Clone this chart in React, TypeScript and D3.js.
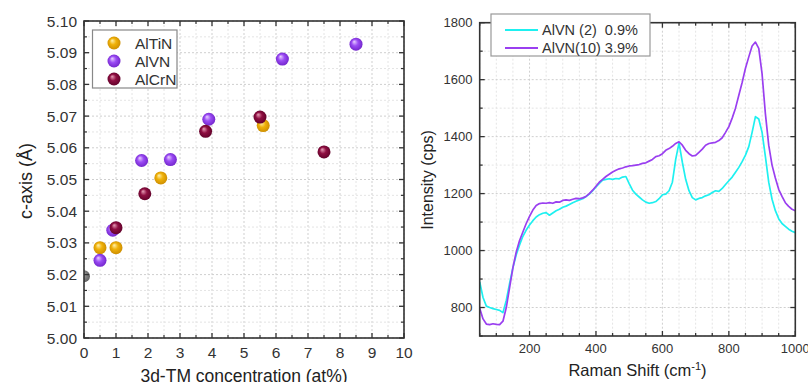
import * as d3 from 'd3';

// ---- left panel: c-axis vs 3d-TM concentration ----
const altinX = [0.5, 1.0, 2.4, 5.6];
const altinY = [5.0285, 5.0285, 5.0505, 5.067];
const alvnX = [0.5, 0.9, 1.8, 2.7, 3.9, 6.2, 8.5];
const alvnY = [5.0245, 5.034, 5.056, 5.0563, 5.069, 5.088, 5.0927];
const alcrnX = [1.0, 1.9, 3.8, 5.5, 7.5];
const alcrnY = [5.0348, 5.0455, 5.0652, 5.0697, 5.0587];
const refX = [0.0];
const refY = [5.0195];

// ---- right panel: Raman spectra ----
const ramanShift = [
  50, 60, 70, 80, 90, 100, 110, 120, 130, 140, 150, 160, 170, 180, 190, 200,
  210, 220, 230, 240, 250, 260, 270, 280, 290, 300, 310, 320, 330, 340, 350,
  360, 370, 380, 390, 400, 410, 420, 430, 440, 450, 460, 470, 480, 490, 500,
  510, 520, 530, 540, 550, 560, 570, 580, 590, 600, 610, 620, 630, 640, 650,
  660, 670, 680, 690, 700, 710, 720, 730, 740, 750, 760, 770, 780, 790, 800,
  810, 820, 830, 840, 850, 860, 870, 880, 890, 900, 910, 920, 930, 940, 950,
  960, 970, 980, 990, 1000,
];
const alvn2 = [
  890, 835, 805, 800, 796, 793, 790, 782, 825, 885, 940, 985, 1020, 1050, 1072,
  1090, 1105, 1118, 1126, 1131, 1133, 1124, 1132, 1140, 1145, 1152, 1156, 1162,
  1168, 1173, 1178, 1182, 1190, 1198, 1210, 1223, 1236, 1247, 1250, 1252, 1250,
  1253, 1252, 1258, 1260, 1235, 1212, 1198, 1188, 1178, 1170, 1166, 1168, 1172,
  1182, 1196, 1198, 1210, 1240, 1320, 1378, 1310, 1250, 1210, 1186, 1178, 1183,
  1186, 1192, 1196, 1204, 1210, 1208, 1218, 1232, 1245, 1258, 1275, 1292, 1312,
  1335, 1365, 1415, 1470, 1462, 1415, 1330, 1240, 1180, 1140, 1112, 1095, 1085,
  1075, 1068, 1063,
];
const alvn10 = [
  797, 760, 742, 740, 743, 741, 740, 752, 800, 870, 940, 995, 1035, 1065, 1095,
  1120, 1142, 1158, 1165, 1167, 1166, 1168, 1166, 1171, 1170, 1176, 1178, 1176,
  1180, 1183, 1182, 1185, 1190, 1200, 1212, 1226, 1240, 1250, 1260, 1268, 1276,
  1282, 1287, 1290, 1294, 1297, 1298, 1300, 1302, 1306, 1308, 1314, 1320, 1330,
  1333, 1340, 1352, 1358, 1366, 1376, 1382, 1370, 1352, 1340, 1332, 1334, 1345,
  1356, 1370, 1376, 1378, 1380, 1386, 1396, 1415, 1435, 1465, 1500, 1545, 1590,
  1640, 1680, 1718, 1732, 1710, 1620, 1480, 1370, 1300, 1255, 1215, 1190, 1168,
  1155, 1145, 1140,
];

const FONT = '"Liberation Sans", Arial, sans-serif';
const AXIS = '#333';
const GRID_MAJ = '#cfcfcf';
const GRID_MIN = '#e4e4e4';

function Sphere({ x, y, id, r = 6.5 }: { x: number; y: number; id: string; r?: number }) {
  return <circle cx={x} cy={y} r={r} fill={`url(#${id})`} />;
}

function LeftPanel() {
  const L = 84, R = 404, T = 21, B = 338;
  const x = d3.scaleLinear().domain([0, 10]).range([L, R]);
  const y = d3.scaleLinear().domain([5.0, 5.1]).range([B, T]);
  const xMaj = d3.range(0, 10.001, 1);
  const xMin = d3.range(0.5, 10, 1);
  const yMaj = d3.range(0, 11).map((i) => 5 + i * 0.01);
  const yMin = d3.range(0, 10).map((i) => 5.005 + i * 0.01);

  const series = [
    { name: 'AlTiN', xs: altinX, ys: altinY, g: 'gTi' },
    { name: 'AlVN', xs: alvnX, ys: alvnY, g: 'gV' },
    { name: 'AlCrN', xs: alcrnX, ys: alcrnY, g: 'gCr' },
  ];

  return (
    <g fontFamily={FONT}>
      <clipPath id='clipL'>
        <rect x={L} y={T} width={R - L} height={B - T} />
      </clipPath>
      {/* grid */}
      {xMin.map((v) => (
        <line key={'xm' + v} x1={x(v)} x2={x(v)} y1={T} y2={B} stroke={GRID_MIN} strokeDasharray='2,2' />
      ))}
      {xMaj.map((v) => (
        <line key={'xg' + v} x1={x(v)} x2={x(v)} y1={T} y2={B} stroke={GRID_MAJ} strokeDasharray='2,2' />
      ))}
      {yMin.map((v) => (
        <line key={'ym' + v} x1={L} x2={R} y1={y(v)} y2={y(v)} stroke={GRID_MIN} strokeDasharray='2,2' />
      ))}
      {yMaj.map((v) => (
        <line key={'yg' + v} x1={L} x2={R} y1={y(v)} y2={y(v)} stroke={GRID_MAJ} strokeDasharray='2,2' />
      ))}

      {/* points */}
      <g clipPath='url(#clipL)'>
        {refX.map((v, i) => (
          <Sphere key={'ref' + i} x={x(v)} y={y(refY[i])} id='gRef' r={6} />
        ))}
        {series.map((s) =>
          s.xs.map((v, i) => <Sphere key={s.name + i} x={x(v)} y={y(s.ys[i])} id={s.g} />)
        )}
      </g>

      {/* frame */}
      <rect x={L} y={T} width={R - L} height={B - T} fill='none' stroke={AXIS} strokeWidth={1.6} />
      {xMaj.map((v) => (
        <g key={'xt' + v}>
          <line x1={x(v)} x2={x(v)} y1={B} y2={B - 5} stroke={AXIS} strokeWidth={1.3} />
          <line x1={x(v)} x2={x(v)} y1={T} y2={T + 5} stroke={AXIS} strokeWidth={1.3} />
          <text x={x(v)} y={358} textAnchor='middle' fontSize={15.5} fill='#333'>
            {v}
          </text>
        </g>
      ))}
      {xMin.map((v) => (
        <g key={'xmt' + v}>
          <line x1={x(v)} x2={x(v)} y1={B} y2={B - 3} stroke={AXIS} strokeWidth={1.2} />
          <line x1={x(v)} x2={x(v)} y1={T} y2={T + 3} stroke={AXIS} strokeWidth={1.2} />
        </g>
      ))}
      {yMaj.map((v) => (
        <g key={'yt' + v}>
          <line x1={L} x2={L + 5} y1={y(v)} y2={y(v)} stroke={AXIS} strokeWidth={1.3} />
          <line x1={R} x2={R - 5} y1={y(v)} y2={y(v)} stroke={AXIS} strokeWidth={1.3} />
          <text x={77} y={y(v) + 5.5} textAnchor='end' fontSize={15.5} fill='#333'>
            {d3.format('.2f')(v)}
          </text>
        </g>
      ))}
      {yMin.map((v) => (
        <g key={'ymt' + v}>
          <line x1={L} x2={L + 3} y1={y(v)} y2={y(v)} stroke={AXIS} strokeWidth={1.2} />
          <line x1={R} x2={R - 3} y1={y(v)} y2={y(v)} stroke={AXIS} strokeWidth={1.2} />
        </g>
      ))}

      {/* titles */}
      <text x={(L + R) / 2} y={382} textAnchor='middle' fontSize={17.5} fill='#222'>
        3d-TM concentration (at%)
      </text>
      <text transform='translate(32,181) rotate(-90)' textAnchor='middle' fontSize={18} fill='#222'>
        c-axis (Å)
      </text>

      {/* legend */}
      <rect x={92.5} y={30} width={84.5} height={58} fill='#fff' stroke='#888' strokeWidth={1.2} />
      {series.map((s, i) => (
        <g key={'lg' + s.name}>
          <Sphere x={114} y={43 + i * 18} id={s.g} />
          <text x={135} y={43 + i * 18 + 5.5} fontSize={15.5} fill='#333'>
            {s.name}
          </text>
        </g>
      ))}
    </g>
  );
}

function RightPanel() {
  const L = 479.7, R = 795.3, T = 22.7, B = 336;
  const x = d3.scaleLinear().domain([50, 1000]).range([L, R]);
  const y = d3.scaleLinear().domain([700, 1800]).range([B, T]);
  const xGrid = d3.range(50, 1001, 50);
  const xMaj = d3.range(200, 1001, 200);
  const yGrid = d3.range(700, 1801, 100);
  const yMaj = d3.range(800, 1801, 200);

  const line = d3
    .line<number>()
    .x((_, i) => x(ramanShift[i]))
    .y((d) => y(d));

  return (
    <g fontFamily={FONT}>
      <clipPath id='clipR'>
        <rect x={L} y={T} width={R - L} height={B - T} />
      </clipPath>
      {xGrid.map((v) => (
        <line key={'xg' + v} x1={x(v)} x2={x(v)} y1={T} y2={B} stroke={v % 200 === 0 ? GRID_MAJ : GRID_MIN} strokeDasharray='2,2' />
      ))}
      {yGrid.map((v) => (
        <line key={'yg' + v} x1={L} x2={R} y1={y(v)} y2={y(v)} stroke={v % 200 === 0 ? GRID_MAJ : GRID_MIN} strokeDasharray='2,2' />
      ))}

      <g clipPath='url(#clipR)' fill='none' strokeWidth={1.7} strokeLinejoin='round'>
        <path d={line(alvn2) ?? ''} stroke='#1ef0f0' />
        <path d={line(alvn10) ?? ''} stroke='#9a3ff0' />
      </g>

      <rect x={L} y={T} width={R - L} height={B - T} fill='none' stroke={AXIS} strokeWidth={1.6} />
      {xGrid.map((v) => {
        const len = v % 200 === 0 ? 5 : 3;
        return (
          <g key={'xt' + v}>
            <line x1={x(v)} x2={x(v)} y1={B} y2={B - len} stroke={AXIS} strokeWidth={1.3} />
            <line x1={x(v)} x2={x(v)} y1={T} y2={T + len} stroke={AXIS} strokeWidth={1.3} />
          </g>
        );
      })}
      {xMaj.map((v) => (
        <text key={'xl' + v} x={x(v)} y={353} textAnchor='middle' fontSize={13} fill='#333'>
          {v}
        </text>
      ))}
      {yGrid.map((v) => {
        const len = v % 200 === 0 ? 5 : 3;
        return (
          <g key={'yt' + v}>
            <line x1={L} x2={L + len} y1={y(v)} y2={y(v)} stroke={AXIS} strokeWidth={1.3} />
            <line x1={R} x2={R - len} y1={y(v)} y2={y(v)} stroke={AXIS} strokeWidth={1.3} />
          </g>
        );
      })}
      {yMaj.map((v) => (
        <text key={'yl' + v} x={472.5} y={y(v) + 4.5} textAnchor='end' fontSize={13} fill='#333'>
          {v}
        </text>
      ))}

      <text x={(L + R) / 2} y={376} textAnchor='middle' fontSize={16.5} fill='#222'>
        Raman Shift (cm
        <tspan dy={-6} fontSize={11}>
          -1
        </tspan>
        <tspan dy={6}>)</tspan>
      </text>
      <text transform='translate(433,180) rotate(-90)' textAnchor='middle' fontSize={16} fill='#222'>
        Intensity (cps)
      </text>

      {/* legend */}
      <rect x={491} y={14} width={159} height={42} fill='#fff' stroke='#999' strokeWidth={1.2} />
      <line x1={505} x2={538} y1={30} y2={30} stroke='#1ef0f0' strokeWidth={1.8} />
      <text x={542} y={35} fontSize={14.5} fill='#333' style={{ whiteSpace: 'pre' }}>
        {'AlVN (2)  0.9%'}
      </text>
      <line x1={505} x2={538} y1={48} y2={48} stroke='#9a3ff0' strokeWidth={1.8} />
      <text x={542} y={53} fontSize={14.5} fill='#333'>
        AlVN(10) 3.9%
      </text>
    </g>
  );
}

function Grad({ id, light, base, dark }: { id: string; light: string; base: string; dark: string }) {
  return (
    <radialGradient id={id} cx='0.5' cy='0.5' r='0.55' fx='0.35' fy='0.3'>
      <stop offset='0' stopColor={light} />
      <stop offset='0.45' stopColor={base} />
      <stop offset='1' stopColor={dark} />
    </radialGradient>
  );
}

export default function App() {
  return (
    <div style={{ position: 'fixed', left: 0, top: 0 }}>
      <svg width={808} height={382} style={{ display: 'block', background: '#fff' }}>
        <defs>
          <Grad id='gTi' light='#fff2b0' base='#f0b20a' dark='#c98a00' />
          <Grad id='gV' light='#e9d0ff' base='#9b4cf4' dark='#6f22c8' />
          <Grad id='gCr' light='#e8a0b8' base='#8f0f42' dark='#5e0028' />
          <Grad id='gRef' light='#d0d0d0' base='#8a8a8a' dark='#5a5a5a' />
        </defs>
        <LeftPanel />
        <RightPanel />
      </svg>
    </div>
  );
}
